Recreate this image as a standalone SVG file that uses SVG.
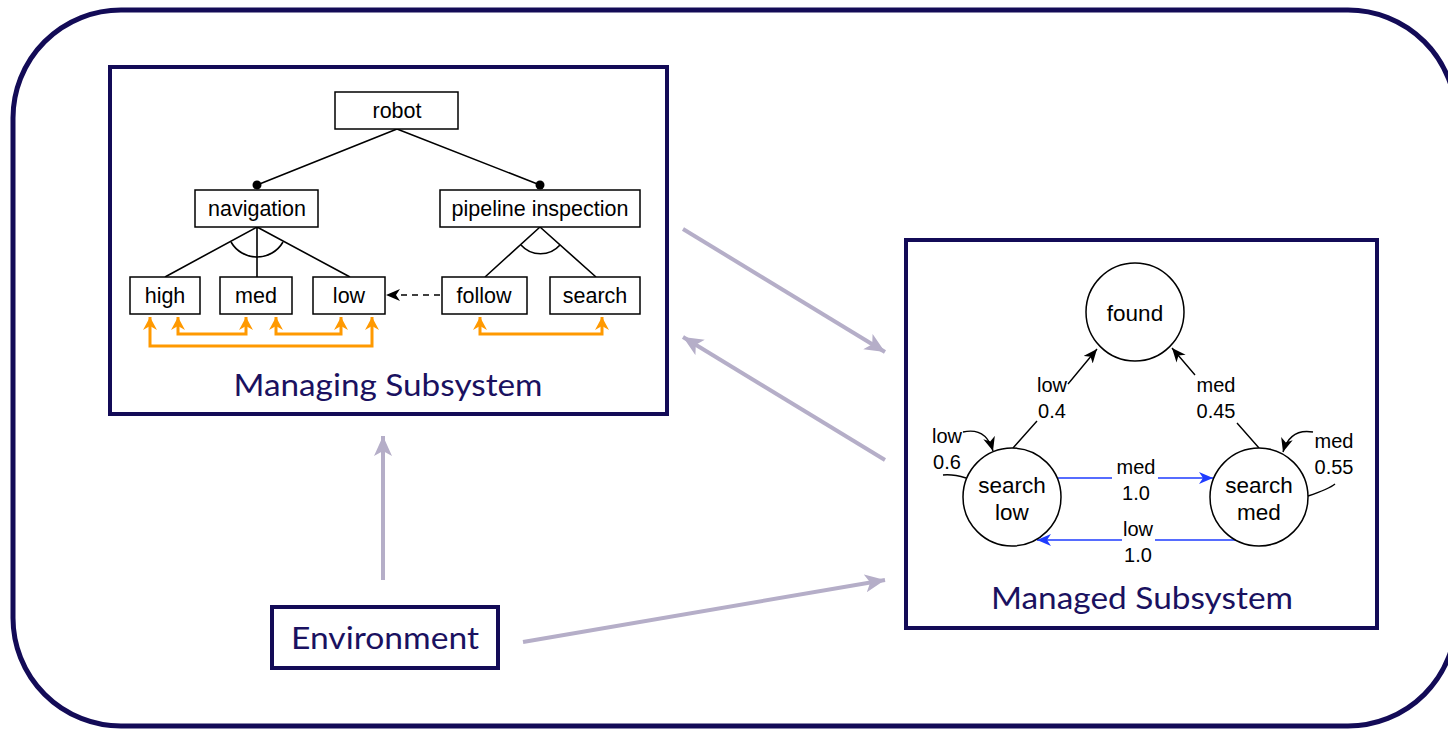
<svg xmlns="http://www.w3.org/2000/svg" width="1448" height="730" viewBox="0 0 1448 730">
  <defs>
    <style>
      .frame { fill: #ffffff; stroke: #130b57; stroke-width: 4; }
      .outer { fill: #ffffff; stroke: #130b57; stroke-width: 5; }
      .title { font-family: Lato, "Open Sans", sans-serif; font-size: 31px; fill: #1a1160; text-anchor: middle; }
      .feat { fill: #ffffff; stroke: #000000; stroke-width: 1.5; }
      .ftxt { font-family: "Liberation Sans", Arial, sans-serif; font-size: 21.5px; fill: #000000; text-anchor: middle; }
      .stxt { font-family: "Liberation Sans", Arial, sans-serif; font-size: 22.5px; fill: #000000; text-anchor: middle; }
      .etxt { font-family: "Liberation Sans", Arial, sans-serif; font-size: 20px; fill: #000000; text-anchor: middle; }
      .tree { fill: none; stroke: #000000; stroke-width: 1.6; }
      .state { fill: #ffffff; stroke: #000000; stroke-width: 1.5; }
      .trans { fill: none; stroke: #000000; stroke-width: 1.4; marker-end: url(#arrBlack); }
      .blue { fill: none; stroke: #1f3cff; stroke-width: 1.4; marker-end: url(#arrBlue); }
      .orange { fill: none; stroke: #ff9900; stroke-width: 3; marker-start: url(#arrOrange); marker-end: url(#arrOrange); }
      .flow { fill: none; stroke: #b5aec8; stroke-width: 4; marker-end: url(#arrGray); }
    </style>
    <marker id="arrGray" markerUnits="userSpaceOnUse" markerWidth="22" markerHeight="20" refX="20" refY="9" orient="auto">
      <path d="M0,0 L20,9 L0,18 L5,9 z" fill="#b5aec8"/>
    </marker>
    <marker id="arrBlack" markerUnits="userSpaceOnUse" markerWidth="16" markerHeight="14" refX="14" refY="6" orient="auto">
      <path d="M0,0 L14,6 L0,12 L4,6 z" fill="#000000"/>
    </marker>
    <marker id="arrBlue" markerUnits="userSpaceOnUse" markerWidth="16" markerHeight="14" refX="14" refY="6" orient="auto">
      <path d="M0,0 L14,6 L0,12 L4,6 z" fill="#1f3cff"/>
    </marker>
    <marker id="arrOrange" markerUnits="userSpaceOnUse" markerWidth="16" markerHeight="16" refX="13" refY="7" orient="auto-start-reverse">
      <path d="M0,0 L13,7 L0,14 L4,7 z" fill="#ff9900"/>
    </marker>
    <marker id="arrDash" markerUnits="userSpaceOnUse" markerWidth="16" markerHeight="14" refX="14" refY="6" orient="auto">
      <path d="M0,0 L14,6 L0,12 L4,6 z" fill="#000000"/>
    </marker>
  </defs>

  <!-- outer system boundary -->
  <rect class="outer" x="13" y="10" width="1443" height="716" rx="108" ry="108"/>

  <!-- managing subsystem: feature model -->
  <g id="managing">
    <rect class="frame" x="110" y="67" width="557" height="347"/>
    <text class="title" x="388" y="396" textLength="309" lengthAdjust="spacingAndGlyphs">Managing Subsystem</text>
  </g>

  <g id="fm-edges">
    <path class="tree" d="M397,129 L257,185 M397,129 L540,185"/>
    <circle cx="257" cy="185" r="4.5" fill="#000000"/>
    <circle cx="540" cy="185" r="4.5" fill="#000000"/>
    <path class="tree" d="M257,227 L165,277 M257,227 L257,277 M257,227 L350,277"/>
    <path class="tree" d="M231,242 A30,30 0 0 0 283,242"/>
    <path class="tree" d="M540,227 L485,277 M540,227 L596,277"/>
    <path class="tree" d="M521,245 A26,26 0 0 0 560,245"/>
    <path d="M440,295 L386,295" fill="none" stroke="#000000" stroke-width="1.6" stroke-dasharray="6,5" marker-end="url(#arrDash)"/>
    <path class="orange" d="M150,317 V346 H372 V317"/>
    <path class="orange" d="M178,317 V334 H246 V317"/>
    <path class="orange" d="M276,317 V334 H341 V317"/>
    <path class="orange" d="M480,317 V334 H602 V317"/>
  </g>

  <g id="f-robot"><rect class="feat" x="335" y="92" width="123" height="37"/><text class="ftxt" x="397" y="118">robot</text></g>
  <g id="f-navigation"><rect class="feat" x="195" y="190" width="123" height="37"/><text class="ftxt" x="257" y="216">navigation</text></g>
  <g id="f-pipeline"><rect class="feat" x="440" y="190" width="200" height="37"/><text class="ftxt" x="540" y="216">pipeline inspection</text></g>
  <g id="f-high"><rect class="feat" x="130" y="277" width="70" height="37"/><text class="ftxt" x="165" y="303">high</text></g>
  <g id="f-med"><rect class="feat" x="220" y="277" width="72" height="37"/><text class="ftxt" x="256" y="303">med</text></g>
  <g id="f-low"><rect class="feat" x="313" y="277" width="72" height="37"/><text class="ftxt" x="349" y="303">low</text></g>
  <g id="f-follow"><rect class="feat" x="442" y="277" width="85" height="37"/><text class="ftxt" x="484" y="303">follow</text></g>
  <g id="f-search"><rect class="feat" x="550" y="277" width="90" height="37"/><text class="ftxt" x="595" y="303">search</text></g>

  <!-- managed subsystem: state machine -->
  <g id="managed">
    <rect class="frame" x="906" y="240" width="471" height="388"/>
    <text class="title" x="1142" y="609" textLength="302" lengthAdjust="spacingAndGlyphs">Managed Subsystem</text>
  </g>

  <g id="sm-edges">
    <path class="trans" d="M1013,448 L1037,421 M1068,384 L1097,349"/>
    <text class="etxt" x="1052" y="392">low</text>
    <text class="etxt" x="1052" y="418">0.4</text>
    <path class="trans" d="M1259,448 L1237,423 M1195,375 L1172,348"/>
    <text class="etxt" x="1216" y="392">med</text>
    <text class="etxt" x="1216" y="418">0.45</text>
    <path d="M966,478 Q953,474 943,475" fill="none" stroke="#000000" stroke-width="1.4"/>
    <path class="trans" d="M963,432 Q986,427 993,451"/>
    <text class="etxt" x="947" y="443">low</text>
    <text class="etxt" x="947" y="469">0.6</text>
    <path d="M1308,496 Q1329,489 1335,484" fill="none" stroke="#000000" stroke-width="1.4"/>
    <path class="trans" d="M1313,432 Q1290,428 1283,452"/>
    <text class="etxt" x="1334" y="448">med</text>
    <text class="etxt" x="1334" y="474">0.55</text>
    <path class="blue" d="M1058,478 H1112 M1158,478 H1213"/>
    <text class="etxt" x="1136" y="474">med</text>
    <text class="etxt" x="1136" y="500">1.0</text>
    <path class="blue" d="M1236,540 H1155 M1122,540 H1037"/>
    <text class="etxt" x="1138" y="536">low</text>
    <text class="etxt" x="1138" y="562">1.0</text>
  </g>

  <g id="s-found"><circle class="state" cx="1135" cy="312" r="49"/><text class="stxt" x="1135" y="321">found</text></g>
  <g id="s-searchlow"><circle class="state" cx="1012" cy="497" r="49"/><text class="stxt" x="1012" y="493">search</text><text class="stxt" x="1012" y="520">low</text></g>
  <g id="s-searchmed"><circle class="state" cx="1259" cy="497" r="49"/><text class="stxt" x="1259" y="493">search</text><text class="stxt" x="1259" y="520">med</text></g>

  <!-- environment -->
  <g id="environment">
    <rect class="frame" x="272" y="607" width="226" height="61"/>
    <text class="title" x="385" y="649" textLength="188" lengthAdjust="spacingAndGlyphs">Environment</text>
  </g>

  <!-- feedback loop between the subsystems -->
  <g id="connectors">
    <path class="flow" d="M683,229 L885,352"/>
    <path class="flow" d="M885,460 L683,337"/>
    <path class="flow" d="M383,580 L383,436"/>
    <path class="flow" d="M523,642 L885,580"/>
  </g>
</svg>
